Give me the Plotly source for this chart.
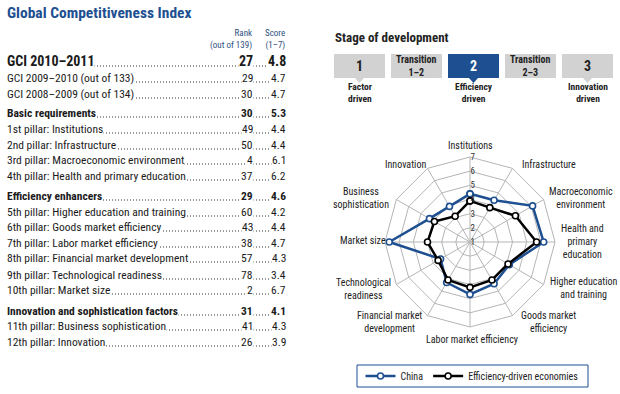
import plotly.graph_objects as go

# ---------------- data ----------------
row_labels = [
    "GCI 2010–2011", "GCI 2009–2010 (out of 133)", "GCI 2008–2009 (out of 134)",
    "Basic requirements", "1st pillar: Institutions", "2nd pillar: Infrastructure",
    "3rd pillar: Macroeconomic environment", "4th pillar: Health and primary education",
    "Efficiency enhancers", "5th pillar: Higher education and training",
    "6th pillar: Goods market efficiency", "7th pillar: Labor market efficiency",
    "8th pillar: Financial market development", "9th pillar: Technological readiness",
    "10th pillar: Market size",
    "Innovation and sophistication factors", "11th pillar: Business sophistication",
    "12th pillar: Innovation",
]
row_ranks = ["27", "29", "30", "30", "49", "50", "4", "37", "29", "60", "43", "38", "57", "78", "2", "31", "41", "26"]
row_scores = ["4.8", "4.7", "4.7", "5.3", "4.4", "4.4", "6.1", "6.2", "4.6", "4.2", "4.4", "4.7", "4.3", "3.4", "6.7", "4.1", "4.3", "3.9"]
row_bold = [True, False, False, True, False, False, False, False, True, False, False, False, False, False, False, True, False, False]

pillars = [
    "Institutions", "Infrastructure", "Macroeconomic environment",
    "Health and primary education", "Higher education and training",
    "Goods market efficiency", "Labor market efficiency",
    "Financial market development", "Technological readiness",
    "Market size", "Business sophistication", "Innovation",
]
pillar_display = [
    "Institutions", "Infrastructure", "Macroeconomic<br>environment",
    "Health and<br>primary<br>education", "Higher education<br>and training",
    "Goods market<br>efficiency", "Labor market efficiency",
    "Financial market<br>development", "Technological<br>readiness",
    "Market size", "Business<br>sophistication", "Innovation",
]
china = [4.4, 4.4, 6.1, 6.2, 4.2, 4.4, 4.7, 4.3, 3.4, 6.7, 4.3, 3.9]
efficiency_driven = [3.9, 3.8, 4.7, 5.7, 4.1, 4.1, 4.2, 4.1, 3.6, 4.0, 3.9, 3.1]
radial_ticks = [1, 2, 3, 4, 5, 6, 7]

stage_titles = ["1", "Transition<br>1–2", "2", "Transition<br>2–3", "3"]
stage_captions = ["Factor<br>driven", "", "Efficiency<br>driven", "", "Innovation<br>driven"]
current_stage = 2  # index in stage_titles

# ---------------- layout helpers ----------------
W, H = 620, 394
FONT = "Liberation Sans Narrow, Arial Narrow, Roboto Condensed, DejaVu Sans Condensed, Roboto, sans-serif"
BLUE = "#1d4f91"
GRAY_BOX = "#d2d2d2"
TXT = "#1a1a1a"

def px(x):
    return x / W

def py(y):
    return 1 - y / H

fig = go.Figure()

# radar traces
for name, vals, col in [("China", china, BLUE), ("Efficiency-driven economies", efficiency_driven, "#000000")]:
    fig.add_trace(go.Scatterpolar(
        r=vals + vals[:1], theta=pillars + pillars[:1], name=name,
        mode="lines+markers",
        line=dict(color=col, width=2.5),
        marker=dict(size=6, color="white", line=dict(color=col, width=1.6)),
    ))

annotations = []
shapes = []

# ---- left table ----
annotations.append(dict(x=px(5), y=py(13), xref="paper", yref="paper", xanchor="left", yanchor="middle",
                        text="<b>Global Competitiveness Index</b>", showarrow=False,
                        font=dict(family=FONT, size=15.5, color=BLUE)))
annotations.append(dict(x=px(254), y=py(40), xref="paper", yref="paper", xanchor="right", yanchor="middle",
                        text="Rank<br>(out of 139)", align="right", showarrow=False,
                        font=dict(family=FONT, size=9, color="#2e4f7e")))
annotations.append(dict(x=px(287), y=py(40), xref="paper", yref="paper", xanchor="right", yanchor="middle",
                        text="Score<br>(1–7)", align="right", showarrow=False,
                        font=dict(family=FONT, size=9, color="#2e4f7e")))

row_y = [61, 78, 94, 113, 129, 145, 160, 176, 196, 212, 227, 243, 258, 275, 290, 311, 326, 342]
for i, lab in enumerate(row_labels):
    y = row_y[i]
    big = (i == 0)
    fs = 14 if big else 11.5
    txt = f"<b>{lab}</b>" if row_bold[i] else lab
    rk = f"<b>{row_ranks[i]}</b>" if row_bold[i] else row_ranks[i]
    sc = f"<b>{row_scores[i]}</b>" if row_bold[i] else row_scores[i]
    dy = 5 if big else 4
    shapes.append(dict(type="line", xref="paper", yref="paper", x0=px(7), x1=px(286),
                       y0=py(y + dy), y1=py(y + dy),
                       line=dict(color="#333", width=1.2 if big else 1, dash="1px,2px")))
    for t, x, anc in [(txt, 6, "left"), (rk, 254, "right"), (sc, 287, "right")]:
        annotations.append(dict(x=px(x), y=py(y), xref="paper", yref="paper", xanchor=anc, yanchor="middle",
                                text=t, showarrow=False, bgcolor="white", borderpad=0,
                                font=dict(family=FONT, size=fs, color=TXT)))

# ---- stage of development ----
annotations.append(dict(x=px(333), y=py(37), xref="paper", yref="paper", xanchor="left", yanchor="middle",
                        text="<b>Stage of development</b>", showarrow=False,
                        font=dict(family=FONT, size=13, color="#222")))
box_x0 = [334, 391, 448, 505, 562]
box_w = 51
for i, t in enumerate(stage_titles):
    x0 = box_x0[i]
    x1 = x0 + box_w
    active = (i == current_stage)
    fill = BLUE if active else GRAY_BOX
    shapes.append(dict(type="rect", xref="paper", yref="paper", x0=px(x0), x1=px(x1), y0=py(78), y1=py(54),
                       fillcolor=fill, line=dict(width=0)))
    big = "<br>" not in t
    annotations.append(dict(x=px((x0 + x1) / 2), y=py(66), xref="paper", yref="paper", xanchor="center",
                            yanchor="middle", text=f"<b>{t}</b>", showarrow=False,
                            font=dict(family=FONT, size=14 if big else 10, color="white" if active else "#222")))
    if stage_captions[i]:
        cx = (x0 + x1) / 2
        shapes.append(dict(type="path", xref="paper", yref="paper",
                           path=f"M {px(cx-5)},{py(77.5)} L {px(cx+5)},{py(77.5)} L {px(cx)},{py(83)} Z",
                           fillcolor=fill, line=dict(width=0)))
        annotations.append(dict(x=px(cx), y=py(92), xref="paper", yref="paper", xanchor="center",
                                yanchor="middle", text=f"<b>{stage_captions[i]}</b>", showarrow=False,
                                font=dict(family=FONT, size=9.5, color="#222")))

# ---- radar labels ----
label_pos = [(470, 145, "center"), (520, 164, "left"), (581, 198, "center"), (582, 242, "center"),
             (583, 288, "center"), (548, 322, "center"), (472, 339, "center"), (389, 322, "center"),
             (364, 289, "center"), (363, 240, "center"), (361, 198, "center"), (406, 164, "center")]
for lab, (x, y, anc) in zip(pillar_display, label_pos):
    annotations.append(dict(x=px(x), y=py(y), xref="paper", yref="paper", xanchor=anc, yanchor="middle",
                            text=lab, showarrow=False, align="center",
                            font=dict(family=FONT, size=10, color="#222")))

# legend box
shapes.append(dict(type="rect", xref="paper", yref="paper", x0=px(357), x1=px(588), y0=py(387), y1=py(365),
                   line=dict(color=BLUE, width=1), fillcolor="rgba(0,0,0,0)"))

fig.update_layout(
    width=W, height=H, margin=dict(l=0, r=0, t=0, b=0),
    paper_bgcolor="white", plot_bgcolor="white",
    font=dict(family=FONT, size=10, color="#222"),
    polar=dict(
        domain=dict(x=[px(385), px(555)], y=[py(327), py(157)]),
        bgcolor="white",
        gridshape="linear",
        angularaxis=dict(direction="clockwise", rotation=90, showticklabels=False, ticks="",
                         gridcolor="#b5b5b5", gridwidth=1, linecolor="#b5b5b5", linewidth=1),
        radialaxis=dict(range=[1, 7], tickvals=radial_ticks, angle=90, tickangle=90,
                        showline=False, ticks="", gridcolor="#b5b5b5", gridwidth=1,
                        tickfont=dict(family=FONT, size=9, color="#333")),
    ),
    showlegend=True,
    legend=dict(orientation="h", x=px(472), xanchor="center", y=py(376), yanchor="middle",
                bgcolor="rgba(0,0,0,0)", font=dict(family=FONT, size=10, color="#222"),
                itemwidth=30),
    annotations=annotations,
    shapes=shapes,
)

fig.write_html("out.html", config={"displayModeBar": False},
               post_script="document.body.style.margin='0';document.documentElement.style.overflow='hidden';")
